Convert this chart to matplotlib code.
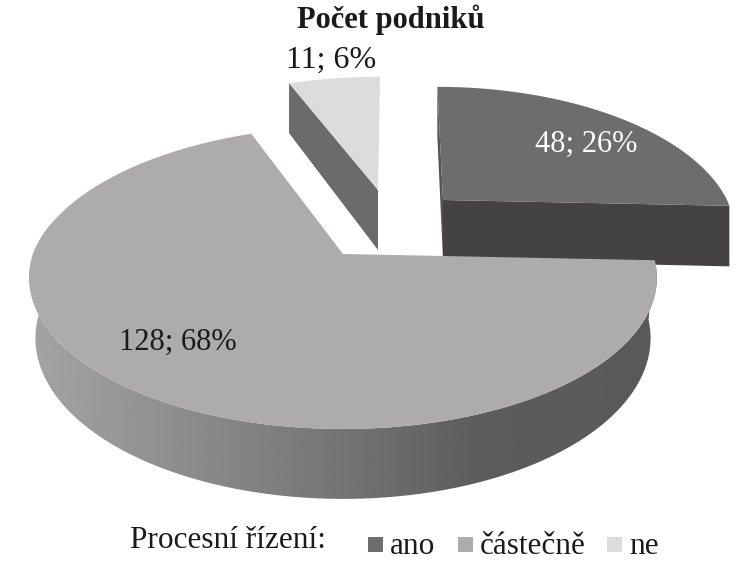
import matplotlib
matplotlib.use("Agg")
import matplotlib.pyplot as plt
from matplotlib.patches import Polygon, Rectangle
import numpy as np

plt.rcParams['font.family'] = ['Liberation Serif', 'DejaVu Serif']

categories = ['ano', 'částečně', 'ne']
values = [48, 128, 11]
title = 'Počet podniků'
legend_title = 'Procesní řízení:'

top_colors = ['#6e6d6e', '#adabac', '#dcdcdc']
label_colors = ['white', '#1a1a1a', '#1a1a1a']
label_pos = [(586, 144), (178, 342), (331, 60)]
label_sizes = [22, 22, 23]

# exploded slice geometry in pixels: apex x, apex y, radius, b, k, shear, depth
slices = [
    (443, 200, 284, 137.5, 0.215, -0.05, 60),
    (343, 254, 310, 147.7, 0.156, 0.05, 59),
    (378, 190, 302, 137.5, 0.215, 0.018, 60),
]

fig = plt.figure(figsize=(7.46, 5.62), dpi=100)
ax = fig.add_axes([0, 0, 1, 1])
ax.set_xlim(0, 746)
ax.set_ylim(562, 0)
ax.axis('off')


def project(s, deg):
    x0, y0, r, b, k, shear, depth = s
    a = np.radians(deg)
    u, v = np.sin(a), np.cos(a)
    w = 1 / (1 + k * v)
    up = b * v * w
    # only the far half leans over
    return x0 + r * u * w + shear * np.maximum(up, 0), y0 - up, depth * w


def wall(s, deg):
    # quad running out from the apex along one slice edge
    x, y, d = project(s, deg)
    return [(s[0], s[1]), (x, y), (x, y + d), (s[0], s[1] + s[6])]


angles = np.cumsum([0] + values) / sum(values) * 360
starts, ends = angles[:-1], angles[1:]

# ne
ax.add_patch(Polygon(wall(slices[2], starts[2]), fc='#6b6b6b', ec='none', zorder=1))
# ano
ax.add_patch(Polygon(wall(slices[0], starts[0]), fc='#565556', ec='none', zorder=2))
ax.add_patch(Polygon(wall(slices[0], ends[0]), fc='#454243', ec='none', zorder=2))

# outer rim of the big slice, shaded from left to right, a bit narrower at the bottom
t = np.linspace(ends[0], 282, 200)
xs, ys, ds = project(slices[1], t)
xb = slices[1][0] + (xs - slices[1][0]) * 0.98
rim = np.r_[np.c_[xs, ys], np.c_[xb, ys + ds][::-1]]
rim_patch = Polygon(rim, fc='none', ec='none', zorder=3)
ax.add_patch(rim_patch)
shade = np.interp(np.linspace(0, 1, 256), [0, 0.15, 0.5, 0.72, 1], [164, 150, 116, 92, 90]) / 255
img = ax.imshow(shade[None, :], cmap='gray', vmin=0, vmax=1, aspect='auto',
                extent=(28, 660, 562, 0), zorder=3)
img.set_clip_path(rim_patch)
ax.set_xlim(0, 746)
ax.set_ylim(562, 0)

for i, s in enumerate(slices):
    t = np.linspace(starts[i], ends[i], 120)
    xs, ys, _ = project(s, t)
    pts = np.r_[[(s[0], s[1])], np.c_[xs, ys]]
    ax.add_patch(Polygon(pts, fc=top_colors[i], ec='none', zorder=4 if i == 1 else 2.5))

for i in range(len(values)):
    pct = round(values[i] / sum(values) * 100)
    ax.text(label_pos[i][0], label_pos[i][1], f'{values[i]}; {pct}%', color=label_colors[i],
            fontsize=label_sizes[i], ha='center', va='center', zorder=6)

ax.text(391, 20, title, fontsize=22, fontweight='bold', color='#1a1a1a', ha='center', va='center')
ax.text(228, 540, legend_title, fontsize=22.5, color='#1a1a1a', ha='center', va='center')

legend_x = [368, 458, 607]
for i, name in enumerate(categories):
    ax.add_patch(Rectangle((legend_x[i], 537), 15, 15, fc=top_colors[i], ec='none'))
    ax.text(legend_x[i] + 22, 547, name, fontsize=22.5, color='#1a1a1a', ha='left', va='center')

fig.savefig('out.png', dpi=100)
